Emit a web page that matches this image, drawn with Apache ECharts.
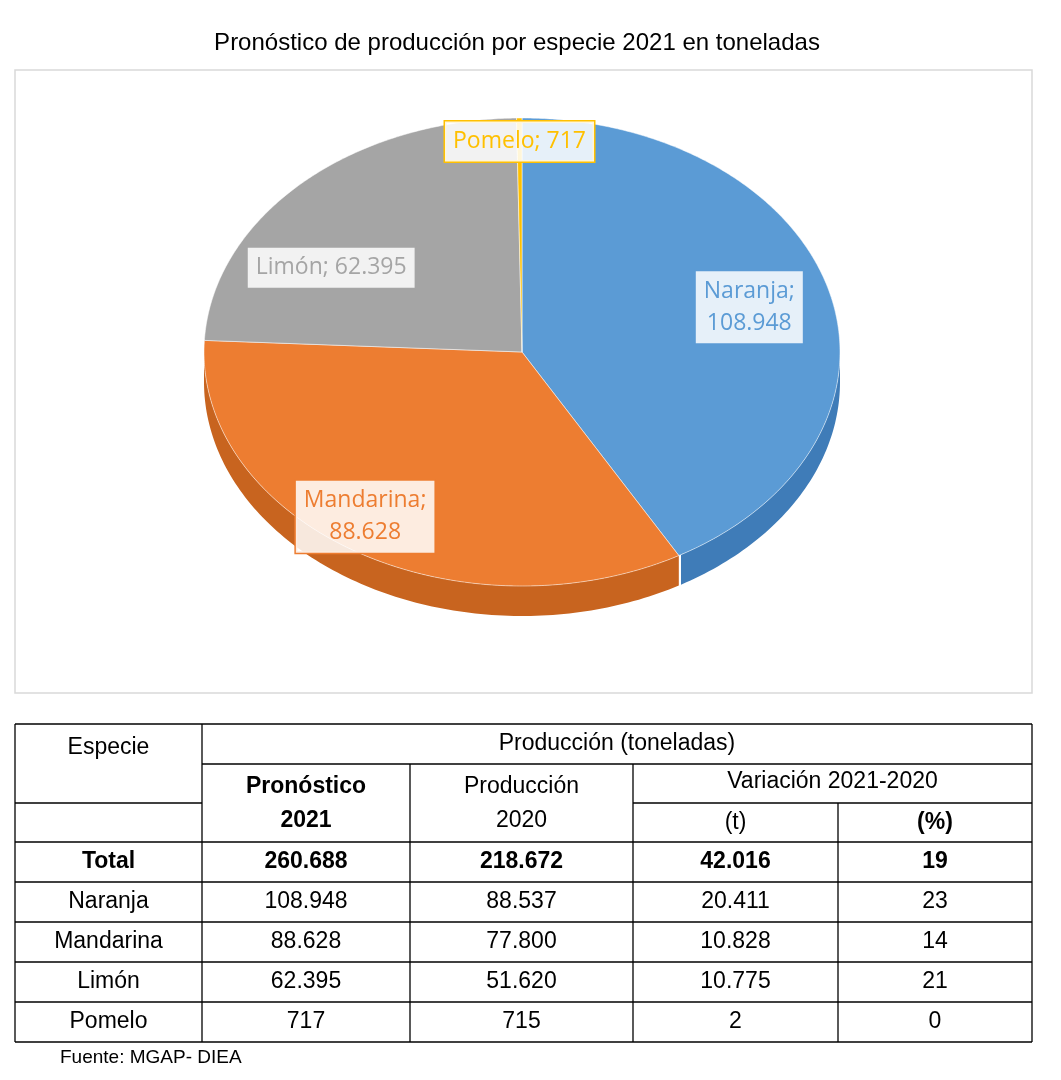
<!DOCTYPE html>
<html><head><meta charset="utf-8">
<script src="https://cdn.jsdelivr.net/npm/echarts@6/dist/echarts.min.js"></script>
<style>html,body{margin:0;padding:0;background:#fff}#c{width:1061px;height:1080px}</style>
</head><body><div id="c"></div>
<script>
const categories = ['Naranja','Mandarina','Limón','Pomelo'];
const values = [108948, 88628, 62395, 717];
const labels = ['Naranja;\n108.948','Mandarina;\n88.628','Limón; 62.395','Pomelo; 717'];
const colors = ['#5B9BD5','#ED7D31','#A5A5A5','#FFC000'];
const sideColors = ['#3F7CB8','#C8641F','#868686','#D9A300'];
const labelFrac = [0.74, 0.86, 0.70, 0.9];
const labelMid = [75, 215, 301, 359.5];

const tableRows = [
  ['Total','260.688','218.672','42.016','19'],
  ['Naranja','108.948','88.537','20.411','23'],
  ['Mandarina','88.628','77.800','10.828','14'],
  ['Limón','62.395','51.620','10.775','21'],
  ['Pomelo','717','715','2','0']
];

const cx=522, cy=352, rx=318, ry=234, depth=30;
function pt(t,dy){const r=t*Math.PI/180;return [cx+rx*Math.sin(r), cy-ry*Math.cos(r)+(dy||0)];}

function renderPie(){
  const total=values.reduce((a,b)=>a+b,0);
  const children=[];
  let a=0; const spans=[];
  values.forEach((v,i)=>{const b=a+v/total*360;spans.push([a,b]);a=b;});
  spans.forEach(([a0,a1],i)=>{
    const s=Math.max(a0,90), e=Math.min(a1,270);
    if(e<=s) return;
    const top=[],bot=[];
    for(let t=s;t<=e+0.001;t+=1){top.push(pt(Math.min(t,e)));bot.push(pt(Math.min(t,e),depth));}
    children.push({type:'polygon',shape:{points:top.concat(bot.reverse())},style:{fill:sideColors[i]}});
  });
  spans.forEach(([a0,a1],i)=>{
    const p=[[cx,cy]];
    for(let t=a0;t<=a1+0.001;t+=0.5)p.push(pt(Math.min(t,a1)));
    p.push(pt(a1));
    children.push({type:'polygon',shape:{points:p},style:{fill:colors[i],stroke:'rgba(255,255,255,0.5)',lineWidth:1}});
  });
  values.forEach((v,i)=>{
    const r=labelMid[i]*Math.PI/180, f=labelFrac[i];
    children.push({type:'text',x:cx+rx*Math.sin(r)*f,y:cy-ry*Math.cos(r)*f,
      style:{text:labels[i],fill:colors[i],font:'23px "Open Sans"',align:'center',verticalAlign:'middle',
      backgroundColor:'rgba(255,255,255,0.85)',borderColor:colors[i],borderWidth:1.5,padding:[4,8],lineHeight:32}});
  });
  return {type:'group',children};
}

const g=[];
g.push({type:'rect',shape:{x:15,y:70,width:1017,height:623},style:{fill:'none',stroke:'#D9D9D9',lineWidth:1.5}});
const F='"Liberation Sans", Arial, sans-serif';
function line(x1,y1,x2,y2){g.push({type:'line',shape:{x1,y1,x2,y2},style:{stroke:'#000',lineWidth:1.3}});}
function txt(s,x,y,bold){g.push({type:'text',x,y,style:{text:s,font:(bold?'bold ':'')+'23px '+F,fill:'#000',align:'center',verticalAlign:'middle',lineHeight:34}});}
const xs=[15,202,410,633,838,1032];
const mid=k=>(xs[k]+xs[k+1])/2;
line(15,724,1032,724);line(202,764,1032,764);line(15,803,202,803);line(633,803,1032,803);
for(let k=0;k<=5;k++)line(15,842+k*40,1032,842+k*40);
line(15,724,15,1042);line(1032,724,1032,1042);line(202,724,202,1042);
line(410,764,410,1042);line(633,764,633,1042);line(838,803,838,1042);
txt('Especie',mid(0),748);
txt('Producción (toneladas)',(202+1032)/2,744);
txt('Pronóstico\n2021',mid(1),804,true);
txt('Producción\n2020',mid(2),804);
txt('Variación 2021-2020',(633+1032)/2,782);
txt('(t)',mid(3),823);txt('(%)',mid(4),823,true);
tableRows.forEach((r,j)=>r.forEach((c,k)=>txt(c,mid(k),862+j*40,j===0)));
g.push({type:'text',x:60,y:1058,style:{text:'Fuente: MGAP- DIEA',font:'19px '+F,fill:'#000',verticalAlign:'middle'}});

const chart=echarts.init(document.getElementById('c'));
chart.setOption({
  animation:false,
  title:{text:'Pronóstico de producción por especie 2021 en toneladas',left:512,top:26,textAlign:'center',
    textStyle:{fontFamily:F,fontWeight:'normal',fontSize:24,color:'#000'}},
  graphic:g,
  series:[{type:'custom',coordinateSystem:'none',data:[0],renderItem:renderPie}]
});
</script></body></html>
